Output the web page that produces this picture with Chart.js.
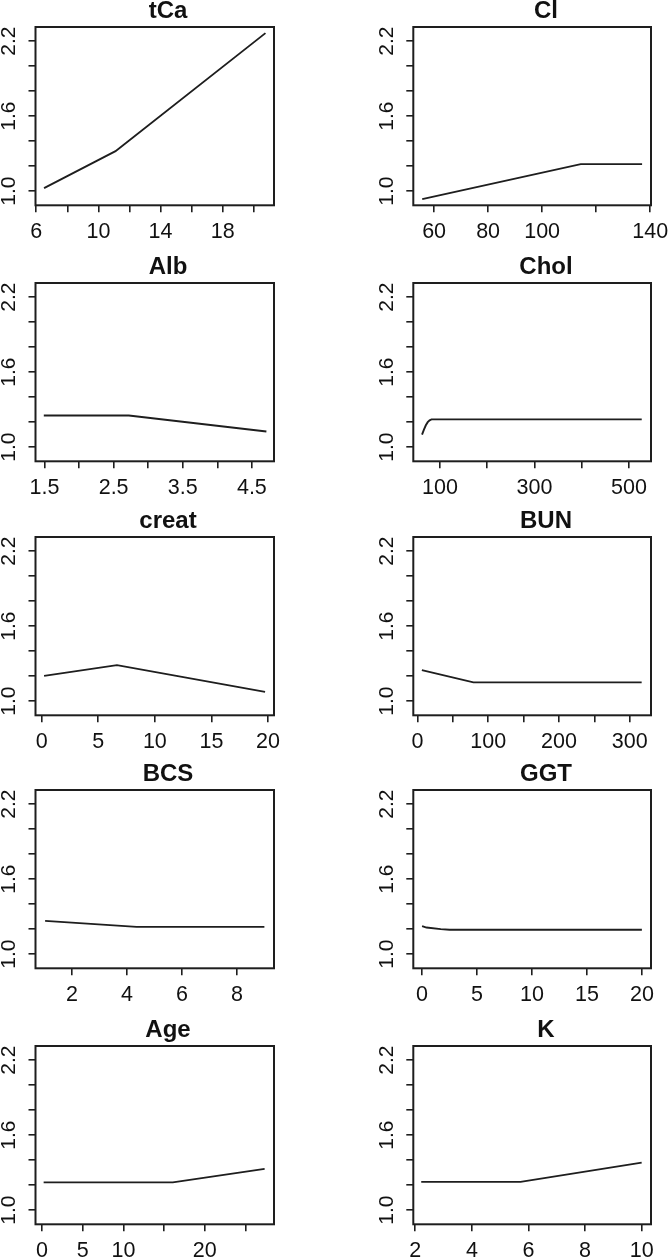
<!DOCTYPE html>
<html>
<head>
<meta charset="utf-8">
<script src="https://cdn.jsdelivr.net/npm/chart.js@4"></script>
<style>
  html, body { margin: 0; padding: 0; background: #fff; overflow: hidden; }
  #wrap { position: relative; width: 669px; height: 1259px; overflow: hidden; background: #fff; }
  #wrap canvas { position: absolute; }
</style>
</head>
<body>
<div id="wrap"></div>
<script>
// ---------- data ----------
const titles = ['tCa', 'Cl', 'Alb', 'Chol', 'creat', 'BUN', 'BCS', 'GGT', 'Age', 'K'];

const tCaX = [6.5, 11.1, 20.75];            const tCaY = [1.024, 1.32, 2.264];
const ClX = [55.6, 114.3, 137];             const ClY = [0.936, 1.216, 1.216];
const AlbX = [1.49, 2.72, 4.71];            const AlbY = [1.253, 1.253, 1.125];
const CholX = [62, 66, 70, 74, 78, 82, 527]; const CholY = [1.10, 1.14, 1.175, 1.20, 1.215, 1.222, 1.222];
const creatX = [0.21, 6.65, 19.74];         const creatY = [1.202, 1.288, 1.074];
const BUNX = [6.1, 79, 316.8];              const BUNY = [1.248, 1.15, 1.15];
const BCSX = [1.02, 4.35, 9.0];             const BCSY = [1.266, 1.218, 1.218];
const GGTX = [0, 0.4, 1.7, 2.5, 20];        const GGTY = [1.224, 1.213, 1.2, 1.195, 1.195];
const AgeX = [0.2, 16.07, 27.35];           const AgeY = [1.222, 1.222, 1.33];
const KX = [2.21, 5.72, 10];                const KY = [1.226, 1.226, 1.38];

// axis limits
const yRange = [0.887, 2.313];
const tCaRange = [5.95, 21.3];
const ClRange = [52.3, 140.3];
const AlbRange = [1.37, 4.82];
const CholRange = [43.5, 546.6];
const creatRange = [-0.55, 20.53];
const BUNRange = [-6, 330];
const BCSRange = [0.67, 9.35];
const GGTRange = [-0.8, 20.83];
const AgeRange = [-0.8, 28.5];
const KRange = [1.93, 10.33];

// tick values and labels
const yTickValues = [1.0, 1.2, 1.4, 1.6, 1.8, 2.0, 2.2];
const yTickLabels = ['1.0', '', '', '1.6', '', '', '2.2'];

const tCaTicks = [6, 8, 10, 12, 14, 16, 18, 20];   const tCaLabels = ['6', '', '10', '', '14', '', '18', ''];
const ClTicks = [60, 80, 100, 120, 140];           const ClLabels = ['60', '80', '100', '', '140'];
const AlbTicks = [1.5, 2, 2.5, 3, 3.5, 4, 4.5];    const AlbLabels = ['1.5', '', '2.5', '', '3.5', '', '4.5'];
const CholTicks = [100, 200, 300, 400, 500];       const CholLabels = ['100', '', '300', '', '500'];
const creatTicks = [0, 5, 10, 15, 20];             const creatLabels = ['0', '5', '10', '15', '20'];
const BUNTicks = [0, 50, 100, 150, 200, 250, 300]; const BUNLabels = ['0', '', '100', '', '200', '', '300'];
const BCSTicks = [2, 4, 6, 8];                     const BCSLabels = ['2', '4', '6', '8'];
const GGTTicks = [0, 5, 10, 15, 20];               const GGTLabels = ['0', '5', '10', '15', '20'];
const AgeTicks = [0, 5, 10, 15, 20, 25];           const AgeLabels = ['0', '5', '10', '', '20', ''];
const KTicks = [2, 4, 6, 8, 10];                   const KLabels = ['2', '4', '6', '8', '10'];

const xs = [tCaX, ClX, AlbX, CholX, creatX, BUNX, BCSX, GGTX, AgeX, KX];
const ys = [tCaY, ClY, AlbY, CholY, creatY, BUNY, BCSY, GGTY, AgeY, KY];
const xRanges = [tCaRange, ClRange, AlbRange, CholRange, creatRange, BUNRange, BCSRange, GGTRange, AgeRange, KRange];
const xTicks = [tCaTicks, ClTicks, AlbTicks, CholTicks, creatTicks, BUNTicks, BCSTicks, GGTTicks, AgeTicks, KTicks];
const xLabels = [tCaLabels, ClLabels, AlbLabels, CholLabels, creatLabels, BUNLabels, BCSLabels, GGTLabels, AgeLabels, KLabels];

// ---------- layout ----------
const FONT = "'Liberation Sans', Arial, Helvetica, sans-serif";
const boxTops = [27, 283, 537, 790, 1046];
const TITLE_H = 28;
const CANVAS_H = 252;
const BOX_H = 178.3;
const XAXIS_H = CANVAS_H - TITLE_H - BOX_H;
const cols = [
  { left: 0,   width: 336, yAxisW: 35.5, rightW: 62 },
  { left: 336, width: 420, yAxisW: 77.3, rightW: 105 }
];
const INK = '#1e1e1e';

const boxPlugin = {
  id: 'rbox',
  afterDraw(chart) {
    const a = chart.chartArea, ctx = chart.ctx;
    ctx.save();
    ctx.strokeStyle = INK;
    ctx.lineWidth = 2;
    ctx.strokeRect(a.left, a.top, a.right - a.left, a.bottom - a.top);
    ctx.restore();
  }
};

const wrap = document.getElementById('wrap');

titles.forEach((t, i) => {
  const col = cols[i % 2];
  const row = Math.floor(i / 2);
  const cv = document.createElement('canvas');
  cv.width = col.width; cv.height = CANVAS_H;
  cv.style.width = col.width + 'px'; cv.style.height = CANVAS_H + 'px';
  cv.style.left = col.left + 'px';
  cv.style.top = (boxTops[row] - TITLE_H) + 'px';
  wrap.appendChild(cv);

  const pts = xs[i].map((x, k) => ({ x: x, y: ys[i][k] }));
  const tv = xTicks[i], tl = xLabels[i];

  new Chart(cv.getContext('2d'), {
    type: 'line',
    data: {
      datasets: [{
        data: pts,
        xAxisID: 'x', yAxisID: 'y',
        borderColor: INK, borderWidth: 1.9,
        pointRadius: 0, tension: 0, fill: false
      }]
    },
    plugins: [boxPlugin],
    options: {
      responsive: false, animation: false, devicePixelRatio: 1,
      layout: { padding: 0 },
      plugins: {
        legend: { display: false },
        tooltip: { enabled: false },
        title: {
          display: true, text: t, color: '#111',
          font: { family: FONT, size: 24, weight: 'bold', lineHeight: 1 },
          padding: { top: 0, bottom: 4 }
        }
      },
      scales: {
        x: {
          type: 'linear', position: 'bottom',
          min: xRanges[i][0], max: xRanges[i][1],
          afterBuildTicks: s => { s.ticks = tv.map(v => ({ value: v })); },
          afterFit: s => { s.height = XAXIS_H; },
          ticks: {
            autoSkip: false, maxRotation: 0, minRotation: 0, padding: 7,
            color: '#111', font: { family: FONT, size: 21.5 },
            callback: (v, k) => tl[k]
          },
          grid: { display: true, drawOnChartArea: false, drawTicks: true, tickLength: 7, color: INK, lineWidth: 1.6 },
          border: { display: false }
        },
        y: {
          type: 'linear', position: 'left',
          min: yRange[0], max: yRange[1],
          afterBuildTicks: s => { s.ticks = yTickValues.map(v => ({ value: v })); },
          afterFit: s => { s.width = col.yAxisW; },
          ticks: {
            autoSkip: false, minRotation: 90, maxRotation: 90, padding: 5,
            crossAlign: 'center',
            color: '#111', font: { family: FONT, size: 21 },
            callback: (v, k) => yTickLabels[k]
          },
          grid: { display: true, drawOnChartArea: false, drawTicks: true, tickLength: 7, color: INK, lineWidth: 1.6 },
          border: { display: false }
        },
        yR: {
          type: 'linear', position: 'right', display: true,
          afterFit: s => { s.width = col.rightW; },
          ticks: { display: false },
          grid: { display: false },
          border: { display: false }
        }
      }
    }
  });
});
</script>
</body>
</html>
